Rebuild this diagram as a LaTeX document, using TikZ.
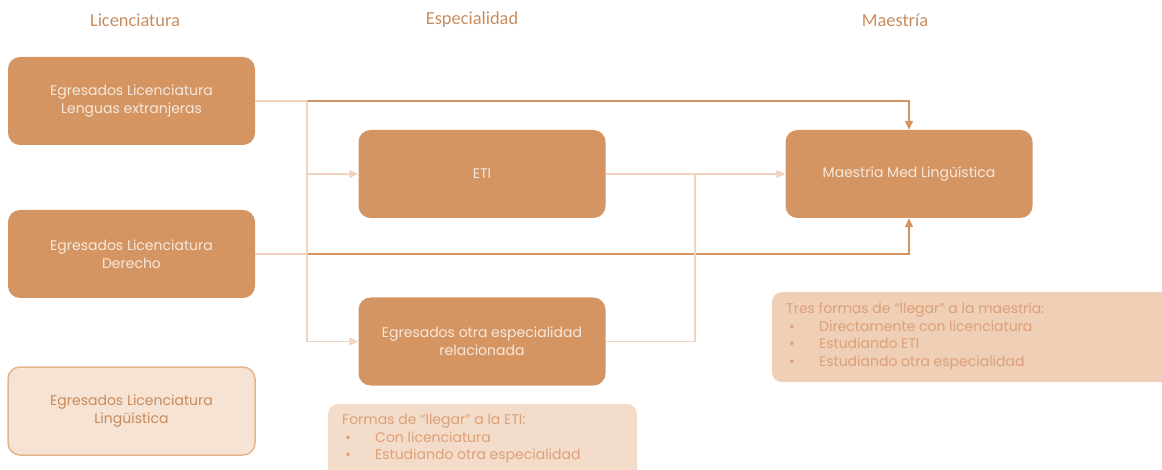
\documentclass[tikz,border=0pt]{standalone}
\usepackage{fontspec}
\setmainfont{Poppins}
\newfontfamily\titulo{Carlito}
\usetikzlibrary{arrows.meta}

% colores
\definecolor{naranja}{HTML}{D49562}
\definecolor{textoclaro}{HTML}{F7E8DC}
\definecolor{lineaclara}{HTML}{F0D4C0}
\definecolor{lineaosc}{HTML}{D49562}
\definecolor{titulocol}{HTML}{C98B5E}
\definecolor{palido}{HTML}{F6E3D3}
\definecolor{palidoborde}{HTML}{E3B58E}
\definecolor{palidotexto}{HTML}{C88A5A}
\definecolor{notauno}{HTML}{F3DCCA}
\definecolor{notados}{HTML}{EFCFB5}
\definecolor{notatexto}{HTML}{DDA077}

\newcommand\vineta[1]{\makebox[33pt][l]{\hspace{3pt}\textbullet}#1}

\tikzset{
  caja/.style={rectangle, rounded corners=12, fill=naranja, text=textoclaro,
    minimum width=247, minimum height=88, align=center,
    font=\fontsize{14}{18}\selectfont},
  cajapalida/.style={caja, fill=palido, draw=palidoborde, line width=1.5,
    text=palidotexto},
  encabezado/.style={text=titulocol, font=\titulo\fontsize{18.4}{20}\selectfont},
  flechaclara/.style={draw=lineaclara, line width=1.5},
  flechaosc/.style={draw=lineaosc, line width=1.5},
  punta/.style={-{Triangle[length=9,width=8]}},
  notatxt/.style={anchor=north west, align=left, text=notatexto, inner sep=0,
    font=\fontsize{14}{17.5}\selectfont},
}

\begin{document}
\begin{tikzpicture}[x=1pt, y=-1pt]
    \clip (0,0) rectangle (1162,470);

    % encabezados de columna
    \node[encabezado] (tlic) at (135,20) {Licenciatura};
    \node[encabezado] (tesp) at (472,20) {Especialidad};
    \node[encabezado] (tmae) at (895,20) {Maestría};

    % cajas
    \node[caja] (lenguas) at (131.5,101) {Egresados Licenciatura\\Lenguas extranjeras};
    \node[caja] (derecho) at (131.5,254) {Egresados Licenciatura\\Derecho};
    \node[cajapalida] (linguistica) at (131.5,411) {Egresados Licenciatura\\Lingüística};
    \node[caja] (eti) at (482,174) {ETI};
    \node[caja] (otra) at (482,341.5) {Egresados otra especialidad\\relacionada};
    \node[caja] (maestria) at (909,174) {Maestría Med Lingüística};

    % puntos de union
    \coordinate (j1) at (307,101);
    \coordinate (j2) at (307,254);
    \coordinate (j3) at (695,174);

    % directo a la maestria
    \draw[flechaosc, punta] (lenguas.east) -| (maestria.north);
    \draw[flechaosc, punta] (derecho.east) -| (maestria.south);

    % hacia la especialidad
    \draw[flechaclara] (lenguas.east) -- (j1);
    \draw[flechaclara] (derecho.east) -- (j2);
    \draw[flechaclara, punta] (j1) |- (otra.west);
    \draw[flechaclara, punta] (j1 |- eti.west) -- (eti.west);

    % especialidad a maestria
    \draw[flechaclara, punta] (eti.east) -- (maestria.west);
    \draw[flechaclara] (otra.east) -| (j3);

    % notas
    \fill[notauno, rounded corners=10] (328,404) rectangle (637,484);
    \node[notatxt] (nota1) at (342,414)
        {Formas de “llegar” a la ETI:\\
         \vineta{Con licenciatura}\\
         \vineta{Estudiando otra especialidad}};

    \fill[notados, rounded corners=10] (772,292) rectangle (1176,382);
    \node[notatxt] (nota2) at (786,302.5)
        {Tres formas de “llegar” a la maestría:\\
         \vineta{Directamente con licenciatura}\\
         \vineta{Estudiando ETI}\\
         \vineta{Estudiando otra especialidad}};
\end{tikzpicture}
\end{document}
